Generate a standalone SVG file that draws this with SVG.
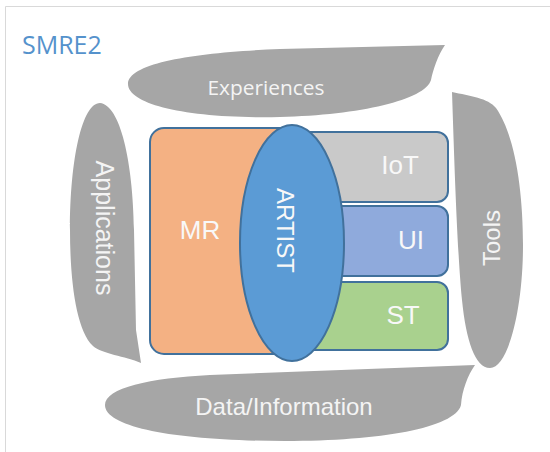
<svg xmlns="http://www.w3.org/2000/svg" width="550" height="452" viewBox="0 0 550 452">
<style>
.blob{fill:#A6A6A6;}
.bt{font-family:"Liberation Sans",Arial,sans-serif;fill:#F4F4F4;text-anchor:middle;}
.box{stroke:#41719C;stroke-width:2;}
.it{font-family:"Liberation Sans",Arial,sans-serif;fill:#F8F8F8;text-anchor:middle;font-size:26px;}
</style>
<rect x="0" y="0" width="550" height="452" fill="#FFFFFF"/>
<path d="M5.5,452 L5.5,6.5 L550,6.5" fill="none" stroke="#D9D9D9" stroke-width="1"/>
<text x="22" y="54" font-family="'Open Sans',sans-serif" font-size="25" fill="#5592CC">SMRE2</text>

<g id="experiences">
<path class="blob" d="M445,45 C438,55 433,70 431,80 C425,100 360,115 280,117 C190,119 128,105 128,84 C128,62 200,52 280,49 Z"/>
<text x="266" y="95" font-family="'Open Sans',sans-serif" font-size="20" fill="#F4F4F4" text-anchor="middle" textLength="117" lengthAdjust="spacingAndGlyphs">Experiences</text>
</g>

<g id="applications">
<path class="blob" d="M100,103 C120,105 133,160 134,230 L136,330 L141,363 C125,356 102,354 93,346 C76,330 70,280 70,230 C70,160 82,103 100,103 Z"/>
<text class="bt" x="102" y="234" font-size="25" transform="rotate(90 102 228)">Applications</text>
</g>

<g id="tools">
<path class="blob" d="M452,92 C470,96 488,98 496,108 C515,135 523,190 523,245 C523,310 508,368 490,368 C475,368 466,340 462,300 C457,250 454,150 452,92 Z"/>
<text class="bt" x="489" y="249" font-size="24" transform="rotate(-90 489 238)">Tools</text>
</g>

<g id="data-information">
<path class="blob" d="M475,365 C468,375 462,390 461,405 C455,428 380,441 285,441 C180,441 105,428 105,405 C105,388 150,378 210,375 Z"/>
<text class="bt" x="284" y="415" font-size="24">Data/Information</text>
</g>

<g id="mr">
<rect class="box" x="150" y="128" width="160" height="226" rx="14" fill="#F4B183"/>
<text class="it" x="200" y="239">MR</text>
</g>

<g id="iot">
<rect class="box" x="290" y="132" width="158" height="70" rx="11" fill="#C9C9C9"/>
<text class="it" x="400" y="174">IoT</text>
</g>

<g id="ui">
<rect class="box" x="290" y="206" width="158" height="70" rx="11" fill="#8FAADC"/>
<text class="it" x="411" y="249">UI</text>
</g>

<g id="st">
<rect class="box" x="290" y="282" width="158" height="68" rx="11" fill="#A9D18E"/>
<text class="it" x="403" y="324">ST</text>
</g>

<g id="artist">
<ellipse class="box" cx="292" cy="243" rx="52" ry="118" fill="#5B9BD5"/>
<text class="it" x="287" y="240.5" style="font-size:24px" transform="rotate(90 287 230.5)">ARTIST</text>
</g>

<g id="connectors"></g>
</svg>
